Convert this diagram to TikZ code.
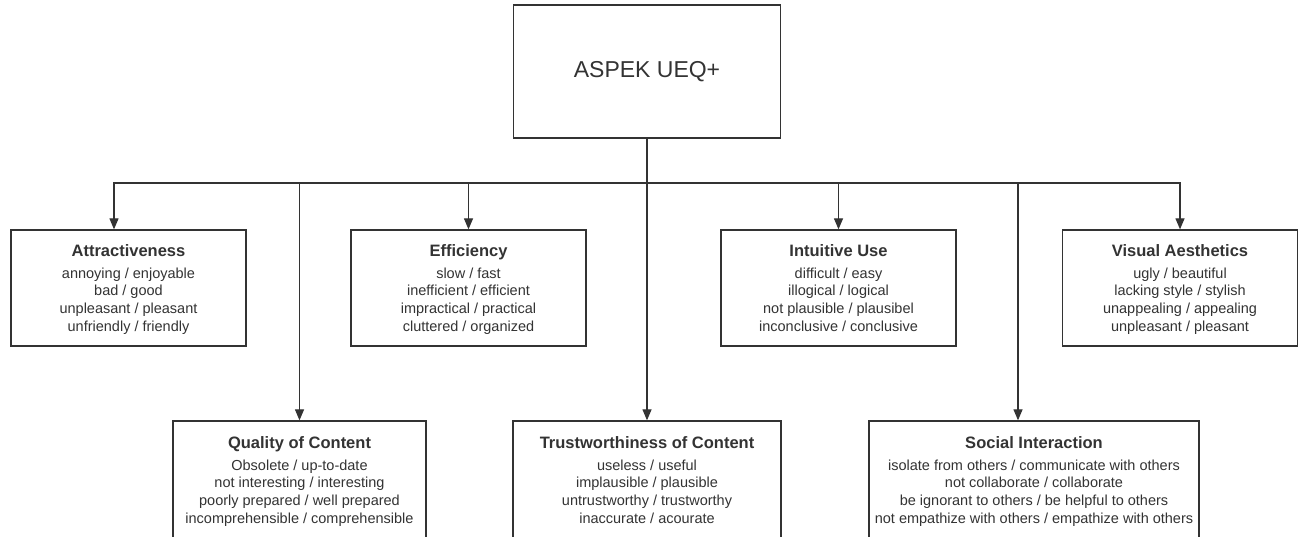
\documentclass[tikz,border=0pt]{standalone}
\usepackage{fontspec}
\setmainfont{Liberation Sans}
\usepackage{pgf,tikz}
\usetikzlibrary{arrows.meta}
\definecolor{gris}{HTML}{333333}
\tikzstyle{caja} = [draw=gris, line width=1.3pt, rectangle, align=center, text=gris, inner sep=0pt, font=\fontsize{14.5}{17.7}\selectfont]
\tikzstyle{aspecto} = [caja, minimum width=235pt, minimum height=116pt]
\tikzstyle{raiz} = [caja, minimum width=267pt, minimum height=133pt, font=\fontsize{23}{28}\selectfont]
\tikzstyle{flecha} = [draw=gris, line width=1.2pt, -{Triangle[length=11pt,width=9pt]}]
\newcommand{\titulo}[1]{{\fontsize{16.5}{17.7}\selectfont\bfseries\rule{0pt}{17pt}#1}\\[4pt]}

\begin{document}
\begin{tikzpicture}[x=1pt,y=-1pt]
	\fill[white] (0,0) rectangle (1300,537);
	\clip (0,0) rectangle (1300,537);
	\useasboundingbox (0,0) rectangle (1300,537);

	\node[raiz](aspek) at (647,71.5) {ASPEK UEQ+};

	% fila de arriba
	\node[aspecto](attr) at (128.5,288) {\titulo{Attractiveness}annoying / enjoyable\\bad / good\\unpleasant / pleasant\\unfriendly / friendly\strut};
	\node[aspecto](eff) at (468.5,288) {\titulo{Efficiency}slow / fast\\inefficient / efficient\\impractical / practical\\cluttered / organized\strut};
	\node[aspecto](intu) at (838.5,288) {\titulo{Intuitive Use}difficult / easy\\illogical / logical\\not plausible / plausibel\\inconclusive / conclusive\strut};
	\node[aspecto](vis) at (1180,288) {\titulo{Visual Aesthetics}ugly / beautiful\\lacking style / stylish\\unappealing / appealing\\unpleasant / pleasant\strut};

	% fila de abajo
	\node[aspecto, minimum width=253pt, minimum height=118pt](qual) at (299.5,480) {\titulo{Quality of Content}Obsolete / up-to-date\\not interesting / interesting\\poorly prepared / well prepared\\incomprehensible / comprehensible\strut};
	\node[aspecto, minimum width=268pt, minimum height=118pt](trust) at (647,480) {\titulo{Trustworthiness of Content}useless / useful\\implausible / plausible\\untrustworthy / trustworthy\\inaccurate / acourate\strut};
	\node[aspecto, minimum width=330pt, minimum height=118pt](soc) at (1034,480) {\titulo{Social Interaction}isolate from others / communicate with others\\not collaborate / collaborate\\be ignorant to others / be helpful to others\\not empathize with others / empathize with others\strut};

	\coordinate (bus) at (647,183);
	\coordinate (atrx) at (114,183);
	\coordinate (socx) at (1018,183);

	\draw[flecha] (aspek.south) -- (trust.north);
	\draw[flecha] (bus) -| (atrx |- attr.north);
	\draw[flecha] (bus) -| (vis.north);
	\draw[flecha] (bus -| eff.north) -- (eff.north);
	\draw[flecha] (bus -| intu.north) -- (intu.north);
	\draw[flecha] (bus -| qual.north) -- (qual.north);
	\draw[flecha] (socx) -- (socx |- soc.north);
\end{tikzpicture}
\end{document}
